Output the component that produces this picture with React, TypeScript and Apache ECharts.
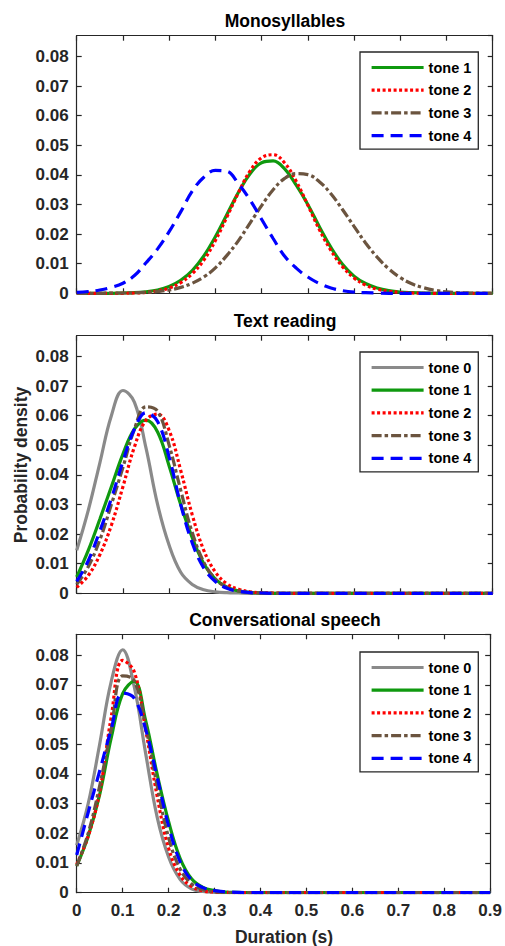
import React, { useEffect, useRef } from "react";
import * as echarts from "echarts";

// x grids (duration, s)
const X_MONO = [
  0, 0.025, 0.05, 0.075, 0.1, 0.125, 0.15, 0.175, 0.2, 0.225, 0.25, 0.275, 0.3,
  0.325, 0.35, 0.375, 0.4, 0.425, 0.45, 0.475, 0.5, 0.525, 0.55, 0.575, 0.6,
  0.625, 0.65, 0.675, 0.7, 0.725, 0.75, 0.775, 0.8, 0.825, 0.85, 0.875, 0.9,
];
const X_SPEECH = [
  0, 0.025, 0.05, 0.075, 0.1, 0.125, 0.15, 0.175, 0.2, 0.225, 0.25, 0.275, 0.3,
  0.325, 0.35, 0.375, 0.4, 0.425, 0.45, 0.9,
];

// Monosyllables
const MONO_T1 = [0, 0, 0, 0, 0.0001, 0.0002, 0.0005, 0.0011, 0.0023, 0.0044, 0.0077, 0.0126, 0.0191, 0.0266, 0.0341, 0.0404, 0.0441, 0.0447, 0.042, 0.0365, 0.03, 0.0225, 0.0155, 0.0098, 0.0058, 0.0033, 0.0018, 0.0009, 0.0004, 0.0002, 0.0001, 0, 0, 0, 0, 0, 0];
const MONO_T2 = [0, 0, 0, 0, 0, 0.0001, 0.0003, 0.0008, 0.0018, 0.0036, 0.0066, 0.0112, 0.0178, 0.0258, 0.034, 0.0413, 0.0458, 0.0468, 0.044, 0.0378, 0.0298, 0.0215, 0.0145, 0.009, 0.0052, 0.0028, 0.0014, 0.0007, 0.0003, 0.0001, 0, 0, 0, 0, 0, 0, 0];
const MONO_T3 = [0, 0, 0, 0.0001, 0.0001, 0.0002, 0.0003, 0.0006, 0.0011, 0.002, 0.0034, 0.0055, 0.0086, 0.0128, 0.0178, 0.0237, 0.0296, 0.035, 0.0388, 0.0404, 0.0401, 0.0377, 0.0336, 0.0283, 0.0226, 0.017, 0.0122, 0.0083, 0.0053, 0.0032, 0.0019, 0.001, 0.0005, 0.0002, 0.0001, 0, 0];
const MONO_T4 = [0.0003, 0.0006, 0.0011, 0.002, 0.0034, 0.006, 0.0103, 0.015, 0.0208, 0.0275, 0.0345, 0.0392, 0.0415, 0.0412, 0.037, 0.0315, 0.025, 0.0185, 0.0125, 0.0085, 0.0055, 0.0033, 0.0018, 0.0009, 0.0004, 0.0002, 0.0001, 0, 0, 0, 0, 0, 0, 0, 0, 0, 0];

// Text reading
const TEXT_T0 = [0.0145, 0.028, 0.044, 0.06, 0.0685, 0.0645, 0.049, 0.03, 0.0162, 0.0071, 0.003, 0.0012, 0.0005, 0.0002, 0.0001, 0, 0, 0, 0, 0];
const TEXT_T1 = [0.0055, 0.0145, 0.025, 0.036, 0.047, 0.0555, 0.0585, 0.0545, 0.043, 0.03, 0.0188, 0.01, 0.0048, 0.0021, 0.0008, 0.0003, 0.0001, 0, 0, 0];
const TEXT_T2 = [0.002, 0.006, 0.013, 0.023, 0.036, 0.0495, 0.0585, 0.0605, 0.055, 0.0415, 0.0265, 0.0145, 0.0072, 0.0032, 0.0014, 0.0005, 0.0002, 0.0001, 0, 0];
const TEXT_T3 = [0.003, 0.009, 0.018, 0.03, 0.0425, 0.0555, 0.063, 0.0615, 0.05, 0.0348, 0.0205, 0.0105, 0.0048, 0.002, 0.0008, 0.0003, 0.0001, 0, 0, 0];
const TEXT_T4 = [0.004, 0.011, 0.021, 0.032, 0.0445, 0.0555, 0.061, 0.058, 0.046, 0.03, 0.017, 0.0085, 0.004, 0.0017, 0.0007, 0.0002, 0.0001, 0, 0, 0];

// Conversational speech
const CONV_T0 = [0.016, 0.03, 0.05, 0.071, 0.0818, 0.0695, 0.047, 0.0255, 0.012, 0.0045, 0.0013, 0.0004, 0.0001, 0, 0, 0, 0, 0, 0, 0];
const CONV_T1 = [0.009, 0.019, 0.033, 0.052, 0.067, 0.0712, 0.058, 0.04, 0.024, 0.0116, 0.0047, 0.0018, 0.0007, 0.0002, 0.0001, 0, 0, 0, 0, 0];
const CONV_T2 = [0.0095, 0.019, 0.034, 0.059, 0.0782, 0.0745, 0.055, 0.0326, 0.015, 0.0059, 0.0021, 0.0006, 0.0002, 0.0001, 0, 0, 0, 0, 0, 0];
const CONV_T3 = [0.009, 0.02, 0.036, 0.055, 0.073, 0.0715, 0.056, 0.036, 0.0186, 0.008, 0.003, 0.001, 0.0003, 0.0001, 0, 0, 0, 0, 0, 0];
const CONV_T4 = [0.0127, 0.027, 0.041, 0.055, 0.0672, 0.0655, 0.055, 0.039, 0.0225, 0.0105, 0.0042, 0.0017, 0.0007, 0.0003, 0.0001, 0, 0, 0, 0, 0];

const PANEL_TITLES = ["Monosyllables", "Text reading", "Conversational speech"];
const X_LABEL = "Duration (s)";
const Y_LABEL = "Probability density";

const FONT = "'Liberation Sans', Arial, Helvetica, sans-serif";
const AXIS_COLOR = "#262626";

const TONE_STYLE: Record<string, { color: string; type: any }> = {
  "tone 0": { color: "#8a8a8a", type: "solid" },
  "tone 1": { color: "#0f990f", type: "solid" },
  "tone 2": { color: "#ff0000", type: [3, 2.5] },
  "tone 3": { color: "#6b543f", type: [10, 3, 3.5, 3] },
  "tone 4": { color: "#0000ff", type: [12, 7] },
};

const PANELS = [
  { xs: X_MONO, series: [["tone 1", MONO_T1], ["tone 2", MONO_T2], ["tone 3", MONO_T3], ["tone 4", MONO_T4]] },
  { xs: X_SPEECH, series: [["tone 0", TEXT_T0], ["tone 1", TEXT_T1], ["tone 2", TEXT_T2], ["tone 3", TEXT_T3], ["tone 4", TEXT_T4]] },
  { xs: X_SPEECH, series: [["tone 0", CONV_T0], ["tone 1", CONV_T1], ["tone 2", CONV_T2], ["tone 3", CONV_T3], ["tone 4", CONV_T4]] },
] as { xs: number[]; series: [string, number[]][] }[];

const GRID_LAYOUT = [
  { top: 35.7, height: 257.6 },
  { top: 335.7, height: 257.6 },
  { top: 634.3, height: 258.4 },
];
const LEGEND_TOPS = [52, 352, 652];
const TITLE_Y = [21, 321, 620];

export default function App() {
  const ref = useRef<HTMLDivElement>(null);
  useEffect(() => {
    if (!ref.current) return;
    const chart = echarts.init(ref.current, undefined, { renderer: "svg" });

    const grids = GRID_LAYOUT.map((g) => ({ left: 76.7, width: 416, top: g.top, height: g.height, containLabel: false }));

    const xAxes: any[] = [];
    const yAxes: any[] = [];
    GRID_LAYOUT.forEach((_, i) => {
      const commonX = {
        type: "value",
        gridIndex: i,
        min: 0,
        max: 0.9,
        interval: 0.1,
        axisLine: { show: true, onZero: false, lineStyle: { color: AXIS_COLOR, width: 1.2 } },
        axisTick: { show: true, inside: true, length: 5, lineStyle: { color: AXIS_COLOR, width: 1.2 } },
        splitLine: { show: false },
      };
      xAxes.push({
        ...commonX,
        position: "bottom",
        axisLabel: {
          show: i === 2,
          margin: 9,
          fontSize: 17,
          fontWeight: "bold",
          fontFamily: FONT,
          color: AXIS_COLOR,
          formatter: (v: number) => (v === 0 ? "0" : v.toFixed(1)),
        },
      });
      xAxes.push({ ...commonX, position: "top", axisLabel: { show: false } });
      const commonY = {
        type: "value",
        gridIndex: i,
        min: 0,
        max: 0.087,
        interval: 0.01,
        axisLine: { show: true, onZero: false, lineStyle: { color: AXIS_COLOR, width: 1.2 } },
        axisTick: { show: true, inside: true, length: 5, lineStyle: { color: AXIS_COLOR, width: 1.2 } },
        splitLine: { show: false },
      };
      yAxes.push({
        ...commonY,
        position: "left",
        axisLabel: {
          show: true,
          margin: 8,
          fontSize: 17,
          fontWeight: "bold",
          fontFamily: FONT,
          color: AXIS_COLOR,
          showMaxLabel: false,
          formatter: (v: number) => {
            if (v === 0) return "0";
            const r = Math.round(v * 100);
            if (Math.abs(v * 100 - r) > 1e-6) return "";
            return v.toFixed(2);
          },
        },
      });
      yAxes.push({ ...commonY, position: "right", axisLabel: { show: false } });
    });

    const series: any[] = [];
    PANELS.forEach((p, i) => {
      p.series.forEach(([name, ys]) => {
        const st = TONE_STYLE[name];
        series.push({
          type: "line",
          name,
          xAxisIndex: i * 2,
          yAxisIndex: i * 2,
          data: p.xs.map((x, k) => [x, ys[k]]),
          smooth: 0.4,
          symbol: "none",
          showSymbol: false,
          clip: true,
          color: st.color,
          lineStyle: { color: st.color, width: 3.2, type: st.type, cap: "butt" },
          emphasis: { disabled: true },
          z: 2,
        });
      });
    });

    const legends = PANELS.map((p, i) => ({
      show: true,
      orient: "vertical",
      left: 360,
      top: LEGEND_TOPS[i],
      width: 116,
      data: p.series.map(([n]) => n),
      itemWidth: 52,
      itemHeight: 14,
      itemGap: 7.7,
      padding: [8, 7, 6, 10],
      backgroundColor: "#ffffff",
      borderColor: AXIS_COLOR,
      borderWidth: 1.3,
      borderRadius: 0,
      selectedMode: false,
      itemStyle: { opacity: 0 },
      lineStyle: { width: 3.2 },
      textStyle: { fontSize: 14.5, fontWeight: "bold", fontFamily: FONT, color: "#000", lineHeight: 14 },
    }));

    const textEl = (text: string, x: number, y: number, size: number, fill = "#000", rotation = 0) => ({
      type: "text",
      x,
      y,
      rotation,
      style: {
        text,
        font: `bold ${size}px ${FONT}`,
        fill,
        textAlign: "center",
        textVerticalAlign: "middle",
      },
      z: 10,
    });

    const graphics = [
      ...PANEL_TITLES.map((t, i) => textEl(t, 285, TITLE_Y[i], 17.5)),
      textEl(Y_LABEL, 21, 465, 17.5, AXIS_COLOR, Math.PI / 2),
      textEl(X_LABEL, 284, 937, 17.5, AXIS_COLOR),
    ];

    chart.setOption({
      animation: false,
      backgroundColor: "#ffffff",
      grid: grids,
      xAxis: xAxes,
      yAxis: yAxes,
      series,
      legend: legends,
      graphic: graphics,
    });
    return () => chart.dispose();
  }, []);

  return (
    <div
      ref={ref}
      style={{ position: "fixed", left: 0, top: 0, width: 505, height: 946, background: "#fff" }}
    />
  );
}
